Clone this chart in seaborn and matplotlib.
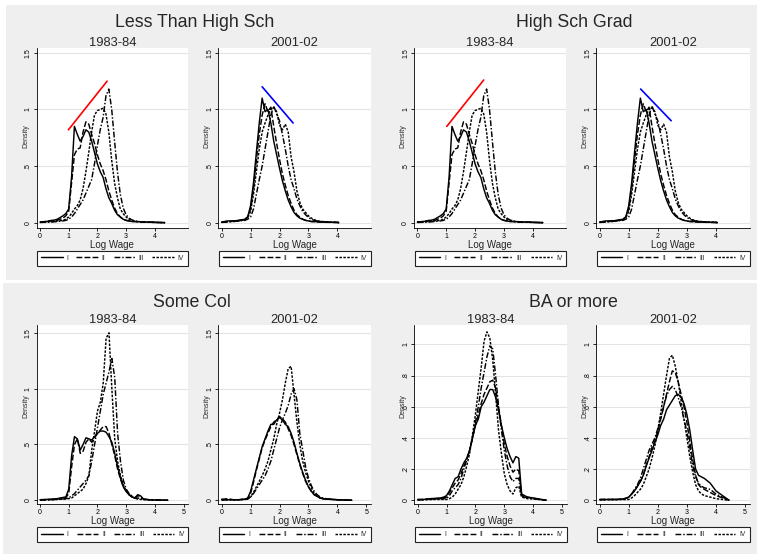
import numpy as np
import pandas as pd
import matplotlib
matplotlib.use("Agg")
import matplotlib.pyplot as plt
import seaborn as sns
from matplotlib.patches import Rectangle

sns.set_theme(style="white")
plt.rcParams['font.family'] = ['Liberation Sans', 'DejaVu Sans']

# ---------------- data ----------------
QUARTILES = ["I", "II", "III", "IV"]
GRID = [0.0, 0.2, 0.4, 0.6, 0.8, 0.9, 1.0, 1.1, 1.2, 1.3, 1.4, 1.5, 1.6, 1.7,
        1.8, 1.9, 2.0, 2.1, 2.2, 2.3, 2.4, 2.5, 2.6, 2.7, 2.8, 2.9, 3.0, 3.1,
        3.2, 3.3, 3.4, 3.5, 3.6, 3.8, 4.0]

# Less Than High Sch, 1983-84
lths84_I = [0.005, 0.01, 0.015, 0.03, 0.06, 0.08, 0.12, 0.4, 0.85, 0.78, 0.72, 0.76, 0.82, 0.8, 0.72, 0.62, 0.52, 0.45, 0.4, 0.3, 0.22, 0.17, 0.11, 0.07, 0.05, 0.03, 0.02, 0.015, 0.01, 0.01, 0.01, 0.008, 0.006, 0.005, 0.003, 0.0]
lths84_II = [0.005, 0.01, 0.02, 0.02, 0.04, 0.06, 0.1, 0.35, 0.6, 0.65, 0.66, 0.8, 0.89, 0.87, 0.78, 0.7, 0.6, 0.52, 0.46, 0.38, 0.28, 0.2, 0.13, 0.08, 0.05, 0.03, 0.02, 0.015, 0.01, 0.01, 0.008, 0.006, 0.005, 0.004, 0.002, 0.0]
lths84_III = [0.002, 0.003, 0.005, 0.01, 0.015, 0.02, 0.03, 0.05, 0.08, 0.12, 0.16, 0.2, 0.26, 0.32, 0.38, 0.52, 0.68, 0.82, 0.93, 1.12, 1.18, 1.0, 0.72, 0.45, 0.25, 0.13, 0.07, 0.04, 0.025, 0.015, 0.01, 0.008, 0.005, 0.004, 0.002, 0.0]
lths84_IV = [0.002, 0.005, 0.01, 0.015, 0.02, 0.03, 0.05, 0.08, 0.12, 0.15, 0.2, 0.3, 0.45, 0.62, 0.8, 0.95, 0.99, 1.0, 1.01, 0.96, 0.8, 0.55, 0.35, 0.22, 0.12, 0.08, 0.05, 0.03, 0.02, 0.012, 0.008, 0.006, 0.005, 0.003, 0.002, 0.0]
lths84_end = 4.35

# Less Than High Sch, 2001-02
lths01_I = [0.005, 0.015, 0.015, 0.02, 0.03, 0.05, 0.15, 0.35, 0.62, 0.88, 1.1, 0.98, 1.0, 0.88, 0.72, 0.6, 0.48, 0.37, 0.28, 0.2, 0.14, 0.09, 0.06, 0.04, 0.03, 0.02, 0.015, 0.01, 0.01, 0.008, 0.006, 0.005, 0.004, 0.003, 0.002, 0.0]
lths01_II = [0.005, 0.01, 0.015, 0.02, 0.03, 0.05, 0.12, 0.3, 0.55, 0.78, 0.95, 1.05, 0.98, 1.02, 0.85, 0.7, 0.56, 0.43, 0.33, 0.24, 0.17, 0.11, 0.07, 0.05, 0.03, 0.02, 0.015, 0.01, 0.008, 0.006, 0.005, 0.004, 0.003, 0.002, 0.001, 0.0]
lths01_III = [0.002, 0.005, 0.01, 0.015, 0.02, 0.03, 0.05, 0.12, 0.25, 0.38, 0.5, 0.65, 0.8, 0.95, 1.03, 0.96, 0.9, 0.78, 0.65, 0.5, 0.38, 0.3, 0.21, 0.15, 0.1, 0.07, 0.045, 0.03, 0.02, 0.015, 0.01, 0.008, 0.006, 0.004, 0.002, 0.0]
lths01_IV = [0.002, 0.008, 0.01, 0.015, 0.025, 0.04, 0.1, 0.25, 0.45, 0.65, 0.8, 0.88, 0.95, 1.0, 1.02, 0.98, 0.86, 0.82, 0.87, 0.8, 0.58, 0.45, 0.28, 0.18, 0.12, 0.09, 0.06, 0.04, 0.025, 0.018, 0.012, 0.01, 0.008, 0.005, 0.003, 0.0]
lths01_end = 4.05

# High Sch Grad (drawn identical to Less Than High Sch in the source)
hsg84_I, hsg84_II, hsg84_III, hsg84_IV = lths84_I, lths84_II, lths84_III, lths84_IV
hsg01_I, hsg01_II, hsg01_III, hsg01_IV = lths01_I, lths01_II, lths01_III, lths01_IV
hsg84_end, hsg01_end = 4.35, 4.05

# Some Col, 1983-84
sc84_I = [0.005, 0.008, 0.01, 0.015, 0.025, 0.03, 0.1, 0.4, 0.57, 0.55, 0.45, 0.5, 0.56, 0.55, 0.54, 0.57, 0.6, 0.62, 0.62, 0.61, 0.57, 0.52, 0.42, 0.3, 0.2, 0.12, 0.08, 0.05, 0.03, 0.02, 0.05, 0.04, 0.01, 0.005, 0.003, 0.0]
sc84_II = [0.003, 0.005, 0.008, 0.012, 0.02, 0.025, 0.06, 0.3, 0.5, 0.55, 0.42, 0.44, 0.52, 0.55, 0.52, 0.56, 0.6, 0.63, 0.66, 0.66, 0.6, 0.5, 0.4, 0.28, 0.19, 0.12, 0.08, 0.05, 0.03, 0.02, 0.04, 0.035, 0.01, 0.005, 0.003, 0.0]
sc84_III = [0.002, 0.003, 0.005, 0.008, 0.012, 0.015, 0.02, 0.04, 0.06, 0.09, 0.12, 0.15, 0.18, 0.22, 0.35, 0.5, 0.65, 0.8, 0.95, 1.05, 1.15, 1.27, 1.1, 0.6, 0.35, 0.18, 0.1, 0.06, 0.04, 0.02, 0.02, 0.015, 0.01, 0.005, 0.003, 0.0]
sc84_IV = [0.002, 0.003, 0.005, 0.008, 0.01, 0.012, 0.015, 0.02, 0.04, 0.06, 0.08, 0.1, 0.15, 0.22, 0.45, 0.62, 0.8, 0.88, 1.05, 1.45, 1.5, 1.0, 0.55, 0.35, 0.22, 0.14, 0.08, 0.05, 0.03, 0.02, 0.01, 0.008, 0.005, 0.003, 0.002, 0.0]
sc84_end = 4.45

# Some Col, 2001-02
sc01_I = [0.01, 0.005, 0.005, 0.005, 0.01, 0.02, 0.08, 0.18, 0.28, 0.38, 0.48, 0.55, 0.62, 0.68, 0.68, 0.72, 0.74, 0.72, 0.68, 0.66, 0.6, 0.52, 0.42, 0.33, 0.25, 0.18, 0.12, 0.08, 0.05, 0.035, 0.02, 0.015, 0.01, 0.008, 0.005, 0.0]
sc01_II = [0.005, 0.015, 0.005, 0.005, 0.01, 0.015, 0.06, 0.16, 0.27, 0.37, 0.47, 0.54, 0.6, 0.66, 0.7, 0.72, 0.75, 0.73, 0.7, 0.64, 0.58, 0.5, 0.41, 0.32, 0.24, 0.17, 0.12, 0.08, 0.05, 0.035, 0.02, 0.015, 0.01, 0.008, 0.005, 0.0]
sc01_III = [0.002, 0.005, 0.005, 0.005, 0.008, 0.01, 0.03, 0.06, 0.1, 0.14, 0.18, 0.22, 0.28, 0.35, 0.45, 0.55, 0.65, 0.72, 0.78, 0.85, 0.95, 1.0, 0.9, 0.6, 0.45, 0.3, 0.2, 0.13, 0.08, 0.05, 0.03, 0.02, 0.015, 0.008, 0.005, 0.0]
sc01_IV = [0.002, 0.004, 0.005, 0.005, 0.008, 0.01, 0.03, 0.07, 0.12, 0.17, 0.22, 0.28, 0.35, 0.45, 0.55, 0.68, 0.78, 0.9, 1.05, 1.18, 1.2, 0.95, 0.7, 0.5, 0.35, 0.25, 0.17, 0.11, 0.06, 0.04, 0.02, 0.015, 0.01, 0.008, 0.005, 0.0]
sc01_end = 4.5

# BA or more, 1983-84
ba84_I = [0.005, 0.005, 0.01, 0.012, 0.015, 0.02, 0.03, 0.06, 0.1, 0.14, 0.15, 0.2, 0.24, 0.27, 0.32, 0.4, 0.48, 0.52, 0.6, 0.63, 0.67, 0.71, 0.71, 0.66, 0.58, 0.48, 0.4, 0.33, 0.28, 0.24, 0.28, 0.27, 0.04, 0.02, 0.015, 0.0]
ba84_II = [0.004, 0.005, 0.008, 0.01, 0.012, 0.015, 0.02, 0.05, 0.08, 0.11, 0.13, 0.17, 0.22, 0.26, 0.32, 0.4, 0.48, 0.55, 0.62, 0.68, 0.72, 0.76, 0.77, 0.72, 0.6, 0.48, 0.36, 0.28, 0.22, 0.18, 0.2, 0.19, 0.03, 0.02, 0.012, 0.0]
ba84_III = [0.003, 0.004, 0.006, 0.008, 0.01, 0.01, 0.01, 0.03, 0.06, 0.08, 0.1, 0.14, 0.2, 0.26, 0.32, 0.4, 0.5, 0.6, 0.72, 0.82, 0.92, 0.99, 0.97, 0.8, 0.6, 0.45, 0.32, 0.22, 0.15, 0.12, 0.14, 0.14, 0.025, 0.015, 0.01, 0.0]
ba84_IV = [0.002, 0.003, 0.004, 0.005, 0.005, 0.005, 0.005, 0.01, 0.02, 0.04, 0.07, 0.1, 0.15, 0.22, 0.3, 0.42, 0.55, 0.7, 0.85, 1.02, 1.08, 1.04, 0.9, 0.68, 0.45, 0.3, 0.17, 0.1, 0.06, 0.04, 0.08, 0.09, 0.02, 0.01, 0.008, 0.0]
ba84_end = 4.45

# BA or more, 2001-02
ba01_I = [0.005, 0.005, 0.005, 0.005, 0.008, 0.012, 0.02, 0.04, 0.06, 0.09, 0.12, 0.16, 0.22, 0.27, 0.32, 0.37, 0.42, 0.48, 0.52, 0.58, 0.61, 0.64, 0.67, 0.68, 0.66, 0.62, 0.55, 0.45, 0.32, 0.2, 0.16, 0.15, 0.14, 0.11, 0.06, 0.0]
ba01_II = [0.004, 0.005, 0.005, 0.005, 0.008, 0.012, 0.02, 0.04, 0.06, 0.09, 0.12, 0.16, 0.22, 0.28, 0.34, 0.38, 0.44, 0.52, 0.6, 0.68, 0.76, 0.83, 0.82, 0.76, 0.68, 0.6, 0.5, 0.38, 0.26, 0.16, 0.1, 0.08, 0.07, 0.05, 0.03, 0.0]
ba01_III = [0.004, 0.005, 0.005, 0.005, 0.008, 0.012, 0.02, 0.04, 0.07, 0.1, 0.14, 0.2, 0.26, 0.32, 0.36, 0.4, 0.46, 0.53, 0.6, 0.67, 0.71, 0.73, 0.71, 0.66, 0.6, 0.52, 0.44, 0.34, 0.22, 0.15, 0.11, 0.09, 0.08, 0.07, 0.04, 0.0]
ba01_IV = [0.002, 0.003, 0.004, 0.004, 0.004, 0.004, 0.005, 0.015, 0.03, 0.05, 0.07, 0.1, 0.15, 0.2, 0.27, 0.35, 0.45, 0.56, 0.68, 0.8, 0.91, 0.93, 0.86, 0.76, 0.64, 0.52, 0.4, 0.28, 0.18, 0.1, 0.06, 0.04, 0.03, 0.02, 0.01, 0.0]
ba01_end = 4.45

# red / blue peak trend lines: (x0, x1), (y0, y1)
lths84_trend = ([0.99, 2.34], [0.82, 1.25])
lths01_trend = ([1.40, 2.47], [1.20, 0.88])
hsg84_trend = ([1.02, 2.30], [0.85, 1.26])
hsg01_trend = ([1.41, 2.46], [1.18, 0.90])

GROUP_TITLES = ["Less Than High Sch", "High Sch Grad", "Some Col", "BA or more"]
PERIODS = ["1983-84", "2001-02"]

TOP_YTICKS = [0, 0.5, 1, 1.5]
TOP_YLABELS = ["0", ".5", "1", "1.5"]
BA_YTICKS = [0, 0.2, 0.4, 0.6, 0.8, 1.0]
BA_YLABELS = ["0", ".2", ".4", ".6", ".8", "1"]
TOP_XTICKS = [0, 1, 2, 3, 4]
BOT_XTICKS = [0, 1, 2, 3, 4, 5]

DASHES = {"I": "", "II": (4.0, 1.5), "III": (4.0, 1.3, 1.0, 1.3), "IV": (1.7, 1.0)}

# ---------------- figure ----------------
W, H = 757, 554
fig = plt.figure(figsize=(W / 100, H / 100), dpi=100, facecolor="white")
GRAY = "#efefef"


def fx(px):
    return px / W


def fy(py):
    return 1 - py / H


fig.add_artist(Rectangle((fx(6), fy(280)), fx(757) - fx(6), fy(5) - fy(280),
                         transform=fig.transFigure, facecolor=GRAY, edgecolor="none", zorder=-5))
fig.add_artist(Rectangle((fx(3), fy(554)), fx(757) - fx(3), fy(283) - fy(554),
                         transform=fig.transFigure, facecolor=GRAY, edgecolor="none", zorder=-5))


def draw_panel(L, R, T, B, curves, x_end, xticks, yticks, ylabels, ylim,
               period, leg_top, trend=None, trend_color=None, dens_y=None):
    ax = fig.add_axes([fx(L), fy(B), fx(R) - fx(L), fy(T) - fy(B)])
    xs = GRID + [x_end]
    rows = []
    for q, ys in zip(QUARTILES, curves):
        for x, y in zip(xs, ys):
            rows.append((x, y, q))
    df = pd.DataFrame(rows, columns=["logwage", "density", "quartile"])
    sns.lineplot(data=df, x="logwage", y="density", style="quartile",
                 style_order=QUARTILES, dashes=DASHES, color="black",
                 linewidth=1.05, estimator=None, ax=ax)
    handles, labels = ax.get_legend_handles_labels()
    if ax.get_legend() is not None:
        ax.get_legend().remove()
    if trend is not None:
        sns.lineplot(x=trend[0], y=trend[1], color=trend_color, linewidth=1.2, ax=ax)
    ax.set_facecolor("white")
    ax.set_xlim(-0.115, 5.16)
    ax.set_ylim(*ylim)
    ax.set_xticks(xticks)
    ax.set_xticklabels([str(t) for t in xticks])
    ax.set_yticks(yticks)
    ax.set_yticklabels(ylabels, rotation=90, va="center")
    ax.tick_params(axis="both", length=2.4, width=0.6, labelsize=5.0, pad=1.2,
                   direction="out", colors="black", bottom=True, left=True)
    for s in ["top", "right"]:
        ax.spines[s].set_visible(False)
    for s in ["left", "bottom"]:
        ax.spines[s].set_color("black")
        ax.spines[s].set_linewidth(0.6)
    ax.grid(axis="y", color="#e4e4e4", linewidth=0.8)
    ax.grid(axis="x", visible=False)
    ax.set_axisbelow(True)
    ax.set_xlabel("")
    ax.set_ylabel("")
    cx = (L + R) / 2
    fig.text(fx(cx), fy(T - 1.8), period, ha="center", va="baseline", fontsize=9.3)
    fig.text(fx(cx), fy(B + 19.2), "Log Wage", ha="center", va="baseline", fontsize=7.0)
    fig.text(fx(L - 11.2), fy(dens_y), "Density", rotation=90, ha="center",
             va="center", fontsize=5)
    leg = ax.legend(handles, labels, ncol=4, loc="upper left",
                    bbox_to_anchor=(fx(L + 0.6), fy(leg_top), fx(R) - fx(L + 0.6), 0),
                    bbox_transform=fig.transFigure, mode="expand", fontsize=4.8,
                    handlelength=3.2, handletextpad=0.6, borderpad=0.6,
                    borderaxespad=0, frameon=True, fancybox=False, columnspacing=1.0)
    fr = leg.get_frame()
    fr.set_edgecolor("#222222")
    fr.set_linewidth(0.8)
    fr.set_facecolor("white")
    fr.set_alpha(1)
    return ax


TOP_T, TOP_B = 48.3, 228.3
BOT_T, BOT_B = 325.0, 504.3
TOP_YLIM = (-0.05, 1.54)
SC_YLIM = (-0.036, 1.57)
BA_YLIM = (-0.026, 1.124)

# top-left quadrant
draw_panel(36.7, 188.0, TOP_T, TOP_B, [lths84_I, lths84_II, lths84_III, lths84_IV], lths84_end,
           TOP_XTICKS, TOP_YTICKS, TOP_YLABELS, TOP_YLIM, PERIODS[0], 250.5,
           lths84_trend, "#ff0000", 136.5)
draw_panel(218.3, 371.0, TOP_T, TOP_B, [lths01_I, lths01_II, lths01_III, lths01_IV], lths01_end,
           TOP_XTICKS, TOP_YTICKS, TOP_YLABELS, TOP_YLIM, PERIODS[1], 250.5,
           lths01_trend, "#0000ff", 136.5)
# top-right quadrant
draw_panel(414.0, 566.3, TOP_T, TOP_B, [hsg84_I, hsg84_II, hsg84_III, hsg84_IV], hsg84_end,
           TOP_XTICKS, TOP_YTICKS, TOP_YLABELS, TOP_YLIM, PERIODS[0], 250.5,
           hsg84_trend, "#ff0000", 136.5)
draw_panel(596.3, 749.7, TOP_T, TOP_B, [hsg01_I, hsg01_II, hsg01_III, hsg01_IV], hsg01_end,
           TOP_XTICKS, TOP_YTICKS, TOP_YLABELS, TOP_YLIM, PERIODS[1], 250.5,
           hsg01_trend, "#0000ff", 136.5)
# bottom-left quadrant
draw_panel(36.7, 188.3, BOT_T, BOT_B, [sc84_I, sc84_II, sc84_III, sc84_IV], sc84_end,
           BOT_XTICKS, TOP_YTICKS, TOP_YLABELS, SC_YLIM, PERIODS[0], 527.0, dens_y=405.8)
draw_panel(218.3, 371.0, BOT_T, BOT_B, [sc01_I, sc01_II, sc01_III, sc01_IV], sc01_end,
           BOT_XTICKS, TOP_YTICKS, TOP_YLABELS, SC_YLIM, PERIODS[1], 527.0, dens_y=405.8)
# bottom-right quadrant
draw_panel(414.3, 566.7, BOT_T, BOT_B, [ba84_I, ba84_II, ba84_III, ba84_IV], ba84_end,
           BOT_XTICKS, BA_YTICKS, BA_YLABELS, BA_YLIM, PERIODS[0], 527.0, dens_y=405.8)
draw_panel(596.3, 749.7, BOT_T, BOT_B, [ba01_I, ba01_II, ba01_III, ba01_IV], ba01_end,
           BOT_XTICKS, BA_YTICKS, BA_YLABELS, BA_YLIM, PERIODS[1], 527.0, dens_y=405.8)

# quadrant titles
fig.text(fx(195.0), fy(27.3), GROUP_TITLES[0], ha="center", va="baseline", fontsize=12.8)
fig.text(fx(574.0), fy(27.3), GROUP_TITLES[1], ha="center", va="baseline", fontsize=12.8)
fig.text(fx(191.7), fy(307.3), GROUP_TITLES[2], ha="center", va="baseline", fontsize=12.8)
fig.text(fx(573.3), fy(307.3), GROUP_TITLES[3], ha="center", va="baseline", fontsize=12.8)

fig.savefig("out.png", dpi=100, facecolor="white")
